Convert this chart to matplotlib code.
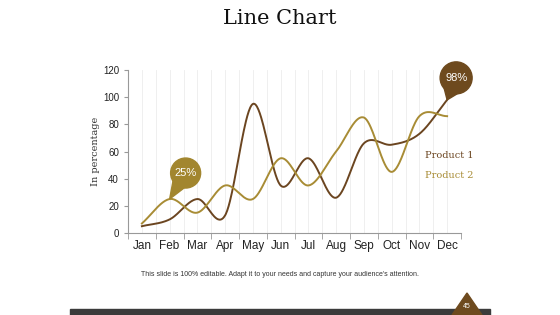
import matplotlib
matplotlib.use('Agg')
import matplotlib.pyplot as plt
import matplotlib.patches as mpatches
import matplotlib.transforms as mtransforms
import numpy as np

months = ['Jan', 'Feb', 'Mar', 'Apr', 'May', 'Jun', 'Jul', 'Aug', 'Sep', 'Oct', 'Nov', 'Dec']
product1 = [5, 10, 25, 13, 95, 35, 55, 26, 66, 65, 73, 98]
product2 = [7, 25, 15, 35, 25, 55, 35, 60, 85, 45, 86, 86]
y_ticks = [0, 20, 40, 60, 80, 100, 120]

brown = '#6b4520'
gold = '#a88c35'
sans = ['Liberation Sans', 'DejaVu Sans']


def smooth(vals, n=40):
    # catmull-rom through the monthly points
    p = np.array(vals, dtype=float)
    p = np.concatenate([[2 * p[0] - p[1]], p, [2 * p[-1] - p[-2]]])
    xs, ys = [], []
    for i in range(1, len(p) - 2):
        t = np.linspace(0, 1, n, endpoint=False)
        p0, p1, p2, p3 = p[i - 1], p[i], p[i + 1], p[i + 2]
        y = 0.5 * ((2 * p1) + (-p0 + p2) * t + (2 * p0 - 5 * p1 + 4 * p2 - p3) * t ** 2
                   + (-p0 + 3 * p1 - 3 * p2 + p3) * t ** 3)
        xs.append(i - 1 + t)
        ys.append(y)
    xs.append([len(vals) - 1])
    ys.append([vals[-1]])
    return np.concatenate(xs), np.concatenate(ys)


def bubble(ax, x, y, dx, dy, r, color, text):
    # circle callout in pixel units, tail pointing at data point (x, y)
    tr = mtransforms.Affine2D() + mtransforms.ScaledTranslation(x, y, ax.transData)
    ang = np.arctan2(-dy, -dx)
    tail = [(0, 0),
            (dx + r * np.cos(ang + 0.45), dy + r * np.sin(ang + 0.45)),
            (dx + r * np.cos(ang - 0.45), dy + r * np.sin(ang - 0.45))]
    ax.add_patch(mpatches.Polygon(tail, closed=True, transform=tr, color=color,
                                  clip_on=False, zorder=5))
    ax.add_patch(mpatches.Circle((dx, dy), r, transform=tr, color=color,
                                 clip_on=False, zorder=5))
    ax.text(dx, dy, text, transform=tr, color='white', fontsize=8, family=sans,
            ha='center', va='center', zorder=6)


fig = plt.figure(figsize=(5.6, 3.15), dpi=100)
ax = fig.add_axes([128 / 560, 1 - 233 / 315, 333 / 560, 163 / 315])

x = np.arange(len(months))
for vals, c in [(product1, brown), (product2, gold)]:
    sx, sy = smooth(vals)
    ax.plot(sx, sy, color=c, linewidth=1.4, zorder=3)

ax.set_xlim(-0.5, len(months) - 0.5)
ax.set_ylim(0, 120)
ax.set_yticks(y_ticks)
ax.set_xticks(x)
ax.set_xticklabels(months, family=sans)
ax.set_yticklabels(y_ticks, family=sans)
ax.set_xticks(np.arange(-0.5, len(months)), minor=True)
ax.tick_params(axis='x', which='major', length=0, labelsize=8.5, colors='#222222', pad=5)
ax.tick_params(axis='x', which='minor', length=4, color='#999999')
ax.tick_params(axis='y', length=3, labelsize=7, colors='#222222', color='#999999')
for g in np.arange(-0.5, len(months), 0.5):
    ax.axvline(g, color='#ececec', linewidth=0.6, zorder=0)
for s in ['top', 'right']:
    ax.spines[s].set_visible(False)
ax.spines['left'].set_color('#999999')
ax.spines['bottom'].set_color('#999999')
ax.set_ylabel('In percentage', family='serif', fontsize=7, color='#333333', labelpad=2)

bubble(ax, 1, product2[1], 16, 26, 15, '#a2862f', '25%')
bubble(ax, 11, product1[-1], 9, 22, 16, '#6e4a1e', '98%')

fig.text(449 / 560, 1 - 155 / 315, 'Product 1', color=brown, family='serif',
         fontsize=7, ha='center', va='center')
fig.text(449 / 560, 1 - 175 / 315, 'Product 2', color=gold, family='serif',
         fontsize=7, ha='center', va='center')

fig.text(0.5, 1 - 18 / 315, 'Line Chart', family='serif', fontsize=15,
         ha='center', va='center', color='#111111')
fig.text(280 / 560, 1 - 274 / 315,
         "This slide is 100% editable. Adapt it to your needs and capture your audience's attention.",
         fontsize=5.0, family=sans, ha='center', va='center', color='#333333')

# footer bar and page marker
fig.patches.append(mpatches.Rectangle((70 / 560, 0), 420 / 560, 6 / 315,
                                      transform=fig.transFigure, color='#3b3b3b'))
fig.patches.append(mpatches.Polygon([(452 / 560, 0), (482 / 560, 0), (467 / 560, 1 - 293 / 315)],
                                    transform=fig.transFigure, color='#6e4a1e'))
fig.text(467 / 560, 1 - 306 / 315, '45', color='white', fontsize=5, family=sans,
         ha='center', va='center')

fig.savefig('out.png', dpi=100)
